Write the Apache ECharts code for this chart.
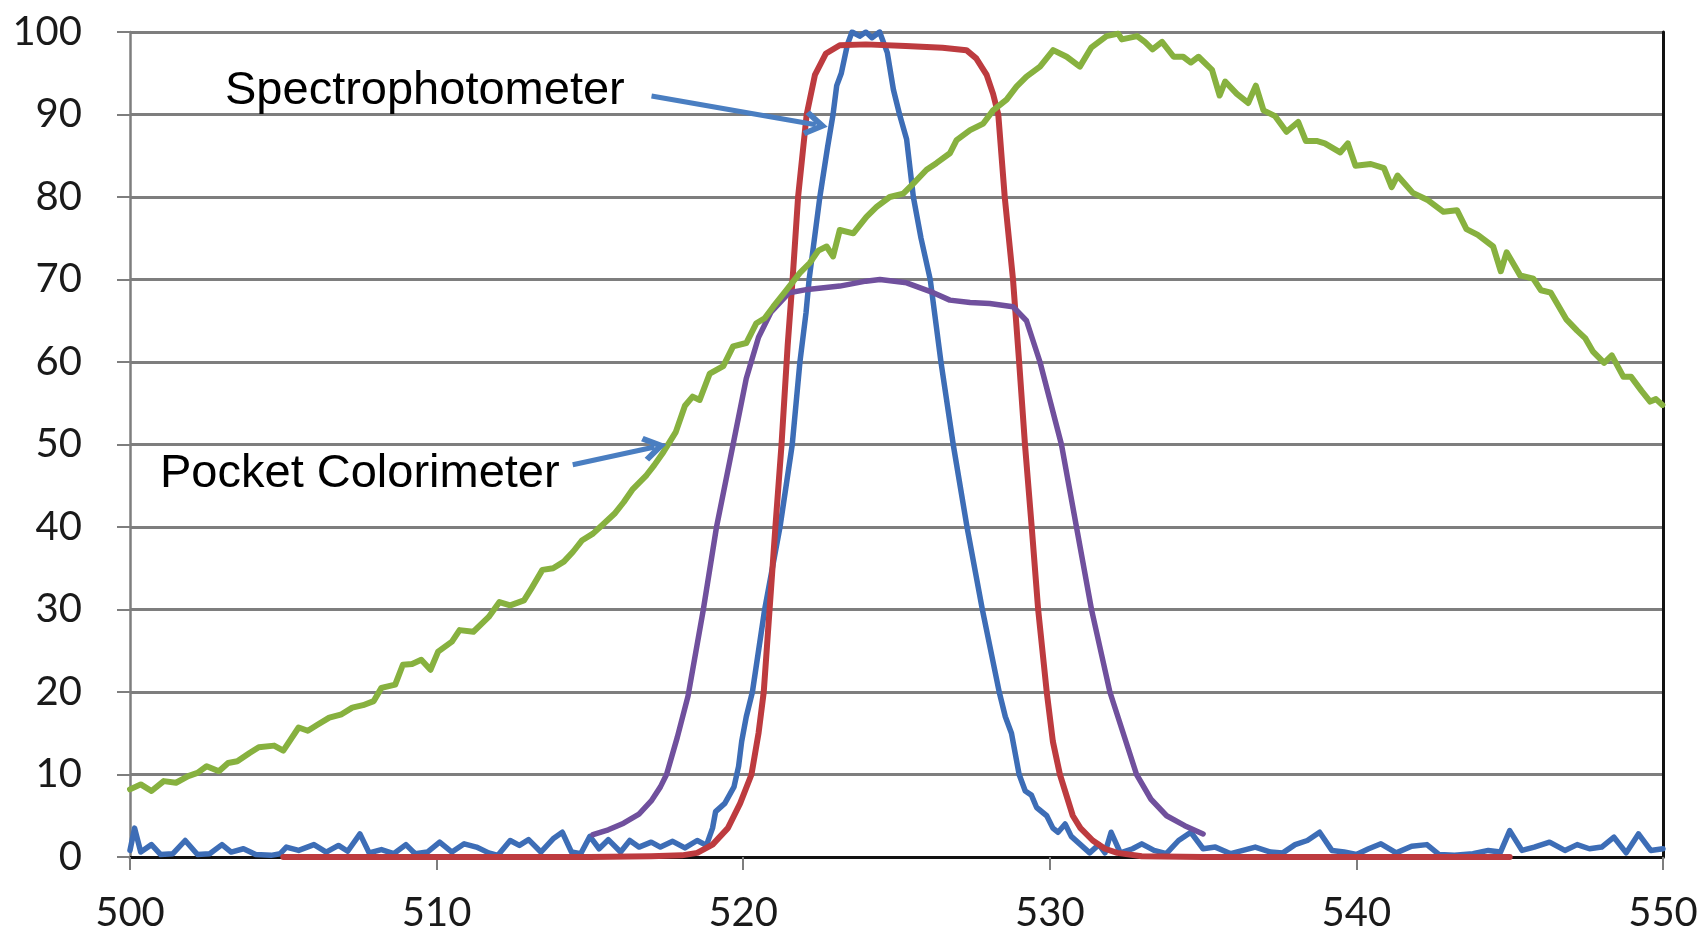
<!DOCTYPE html>
<html>
<head>
<meta charset="utf-8">
<script src="https://cdn.jsdelivr.net/npm/echarts@6/dist/echarts.min.js"></script>
<style>
  html, body { margin: 0; padding: 0; background: #fff; }
  #chart { width: 1702px; height: 939px; }
</style>
</head>
<body>
<div id="chart"></div>
<script>
// wavelength (nm) vs. relative response (%)
var xTicks = [500, 510, 520, 530, 540, 550];
var yTicks = [0, 10, 20, 30, 40, 50, 60, 70, 80, 90, 100];

var blueData = [
  [500.0, 0.8], [500.15, 3.5], [500.35, 0.6], [500.7, 1.5], [501.0, 0.3], [501.4, 0.4],
  [501.8, 2.0], [502.2, 0.3], [502.6, 0.4], [503.0, 1.5], [503.3, 0.6], [503.7, 1.0],
  [504.1, 0.3], [504.6, 0.2], [504.9, 0.4], [505.1, 1.2], [505.5, 0.8], [506.0, 1.5],
  [506.4, 0.6], [506.8, 1.4], [507.1, 0.7], [507.5, 2.8], [507.8, 0.5], [508.2, 0.9],
  [508.6, 0.4], [509.0, 1.5], [509.3, 0.4], [509.7, 0.6], [510.1, 1.8], [510.5, 0.6],
  [510.9, 1.6], [511.3, 1.2], [511.7, 0.5], [512.0, 0.2], [512.4, 2.0], [512.7, 1.4],
  [513.0, 2.1], [513.4, 0.6], [513.8, 2.2], [514.1, 3.0], [514.4, 0.6], [514.7, 0.4],
  [515.0, 2.5], [515.3, 1.0], [515.6, 2.1], [516.0, 0.6], [516.3, 2.0], [516.6, 1.2],
  [517.0, 1.8], [517.3, 1.2], [517.7, 1.9], [518.1, 1.1], [518.5, 2.0], [518.8, 1.4],
  [519.0, 3.5], [519.1, 5.5], [519.4, 6.5], [519.7, 8.5], [519.85, 11], [519.95, 14],
  [520.1, 17], [520.3, 20], [520.7, 30], [521.2, 40], [521.6, 50], [521.85, 60],
  [522.05, 66], [522.15, 70], [522.5, 80], [522.75, 86], [522.93, 90], [523.05, 93.5],
  [523.2, 95], [523.4, 98.5], [523.55, 100], [523.8, 99.5], [524.0, 100], [524.2, 99.3],
  [524.45, 100], [524.7, 97.5], [524.9, 93], [525.1, 90], [525.33, 87], [525.55, 80],
  [525.8, 75], [526.1, 70], [526.45, 60], [526.85, 50], [527.3, 40], [527.8, 30],
  [528.35, 20], [528.55, 17], [528.75, 15], [529.0, 10], [529.2, 8], [529.4, 7.5],
  [529.57, 6], [529.9, 5], [530.1, 3.5], [530.27, 3], [530.5, 4], [530.7, 2.5],
  [531.0, 1.5], [531.3, 0.5], [531.6, 1.5], [531.8, 0.5], [532.0, 3.0], [532.3, 0.5],
  [532.7, 1.0], [533.0, 1.6], [533.4, 0.8], [533.8, 0.4], [534.2, 2.0], [534.6, 3.0],
  [535.0, 1.0], [535.4, 1.2], [535.9, 0.4], [536.3, 0.8], [536.7, 1.2], [537.2, 0.6],
  [537.6, 0.5], [538.0, 1.5], [538.4, 2.0], [538.8, 3.0], [539.2, 0.8], [539.6, 0.6],
  [540.0, 0.3], [540.4, 1.0], [540.8, 1.6], [541.3, 0.5], [541.8, 1.3], [542.3, 1.5],
  [542.7, 0.3], [543.2, 0.2], [543.8, 0.4], [544.3, 0.8], [544.7, 0.6], [545.0, 3.2],
  [545.4, 0.8], [545.8, 1.2], [546.3, 1.8], [546.8, 0.8], [547.2, 1.5], [547.6, 1.0],
  [548.0, 1.2], [548.4, 2.4], [548.8, 0.5], [549.2, 2.8], [549.6, 0.8], [550.0, 1.0]
];

var redData = [
  [505.0, 0], [510.0, 0], [515.0, 0], [517.0, 0.1], [518.0, 0.2], [518.5, 0.5],
  [519.0, 1.5], [519.5, 3.5], [519.9, 6.5], [520.27, 10], [520.5, 15], [520.67, 20],
  [520.86, 30], [521.05, 40], [521.25, 50], [521.45, 62], [521.61, 70], [521.79, 80],
  [522.07, 90], [522.34, 94.8], [522.7, 97.4], [523.15, 98.4], [524.0, 98.5], [525.3, 98.3],
  [526.5, 98.1], [527.28, 97.8], [527.6, 96.8], [527.94, 94.8], [528.15, 92.5], [528.32, 90],
  [528.53, 80], [528.8, 70], [529.0, 60], [529.19, 50], [529.41, 40], [529.62, 30],
  [529.9, 20], [530.1, 14], [530.33, 10], [530.75, 5], [531.0, 3.5], [531.4, 2],
  [531.8, 1], [532.2, 0.5], [533.0, 0.1], [535.0, 0], [540.0, 0], [545.0, 0]
];

var purpleData = [
  [515.1, 2.7], [515.6, 3.3], [516.1, 4.1], [516.6, 5.2], [517.0, 6.8], [517.3, 8.5],
  [517.5, 10], [517.85, 14.5], [518.2, 19.5], [518.7, 30], [519.13, 40], [519.67, 50],
  [520.1, 58], [520.5, 63], [520.9, 66], [521.5, 68.4], [522.1, 68.8], [523.15, 69.2],
  [524.0, 69.8], [524.46, 70], [525.33, 69.6], [526.2, 68.4], [526.74, 67.5], [527.4, 67.2],
  [528.04, 67.1], [528.8, 66.7], [529.24, 65], [529.68, 60], [530.38, 50], [530.87, 40],
  [531.36, 30], [531.96, 20], [532.83, 10], [533.3, 7], [533.81, 5], [534.4, 3.8],
  [535.0, 2.8]
];

var greenData = [
  [500.0, 8.2], [500.35, 8.8], [500.7, 8.0], [501.1, 9.2], [501.5, 9.0], [501.9, 9.8],
  [502.2, 10.2], [502.5, 11.0], [502.9, 10.4], [503.2, 11.4], [503.5, 11.6], [503.9, 12.6],
  [504.2, 13.3], [504.7, 13.5], [505.0, 12.9], [505.5, 15.7], [505.8, 15.3], [506.1, 16.0],
  [506.5, 16.9], [506.9, 17.3], [507.25, 18.1], [507.6, 18.4], [507.95, 18.9], [508.2, 20.5],
  [508.65, 20.9], [508.9, 23.3], [509.2, 23.4], [509.5, 23.9], [509.8, 22.7], [510.05, 24.9],
  [510.5, 26.1], [510.75, 27.5], [511.2, 27.3], [511.7, 29.1], [512.05, 30.9], [512.4, 30.5],
  [512.85, 31.1], [513.1, 32.6], [513.45, 34.8], [513.8, 35.0], [514.15, 35.8], [514.45, 37.0],
  [514.75, 38.4], [515.1, 39.2], [515.45, 40.4], [515.8, 41.6], [516.1, 43.0], [516.4, 44.6],
  [516.85, 46.3], [517.1, 47.5], [517.4, 49.1], [517.8, 51.5], [518.1, 54.7], [518.35, 55.8],
  [518.58, 55.4], [518.91, 58.6], [519.35, 59.5], [519.67, 61.9], [520.1, 62.3], [520.43, 64.7],
  [520.7, 65.3], [520.98, 66.7], [521.41, 68.7], [521.85, 70.8], [522.17, 72.0], [522.45, 73.5],
  [522.72, 74.0], [522.93, 72.8], [523.15, 76.0], [523.59, 75.6], [524.02, 77.6], [524.35, 78.8],
  [524.78, 80.0], [525.22, 80.4], [525.54, 81.6], [525.98, 83.3], [526.3, 84.1], [526.74, 85.3],
  [526.96, 86.9], [527.4, 88.1], [527.83, 88.9], [528.15, 90.5], [528.59, 91.8], [528.92, 93.4],
  [529.24, 94.6], [529.68, 95.8], [530.11, 97.8], [530.55, 97.0], [530.98, 95.8], [531.35, 98.1],
  [531.85, 99.5], [532.23, 99.8], [532.35, 99.1], [532.85, 99.5], [533.1, 98.8], [533.35, 97.9],
  [533.66, 98.8], [534.04, 97.0], [534.35, 97.0], [534.6, 96.3], [534.85, 97.0], [535.29, 95.4],
  [535.54, 92.3], [535.72, 94.0], [536.1, 92.5], [536.47, 91.4], [536.72, 93.5], [536.97, 90.5],
  [537.35, 89.8], [537.72, 87.9], [538.1, 89.1], [538.35, 86.8], [538.7, 86.8], [538.97, 86.5],
  [539.47, 85.4], [539.72, 86.5], [539.97, 83.8], [540.47, 84.0], [540.9, 83.5], [541.15, 81.2],
  [541.34, 82.6], [541.84, 80.5], [542.34, 79.6], [542.84, 78.2], [543.28, 78.4], [543.59, 76.1],
  [543.96, 75.4], [544.46, 74.0], [544.71, 71.0], [544.9, 73.3], [545.34, 70.5], [545.77, 70.1],
  [546.02, 68.7], [546.34, 68.4], [546.84, 65.2], [547.2, 63.8], [547.46, 62.9], [547.71, 61.3],
  [548.08, 59.9], [548.33, 60.8], [548.71, 58.2], [548.96, 58.2], [549.3, 56.5], [549.58, 55.2],
  [549.77, 55.5], [549.98, 54.8]
];

// callout arrows, tail -> head, in data units
var spectroArrow = [[517.01, 92.25], [522.37, 88.76]];
var pocketArrow = [[514.44, 47.55], [517.11, 49.70]];
var calloutText = ["Spectrophotometer", "Pocket Colorimeter"];

var gridColor = '#7e7e7e';
var labelFont = { fontFamily: 'Lato', fontSize: 40, color: '#1a1a1a' };
var chevron = 'path://M10,0 L20,14 L16.5,16.5 L10,7.5 L3.5,16.5 L0,14 Z';

function line(name, data, color, width) {
  return {
    name: name,
    type: 'line',
    data: data,
    showSymbol: false,
    symbol: 'none',
    lineStyle: { color: color, width: width, join: 'round', cap: 'round' },
    silent: true,
    z: 3
  };
}

var chart = echarts.init(document.getElementById('chart'));

var blueSeries = line('blue', blueData, '#3d6db6', 5.5);
blueSeries.markLine = {
  silent: true,
  animation: false,
  symbol: ['none', chevron],
  symbolSize: [26, 24],
  label: { show: false },
  lineStyle: { color: '#4a7ec1', width: 5, type: 'solid' },
  data: [
    [{ coord: spectroArrow[0] }, { coord: spectroArrow[1] }],
    [{ coord: pocketArrow[0] }, { coord: pocketArrow[1] }]
  ],
  z: 6
};

chart.setOption({
  backgroundColor: '#ffffff',
  animation: false,
  grid: { left: 130, right: 39, top: 32, bottom: 82 },
  xAxis: [{
    type: 'value',
    min: xTicks[0],
    max: xTicks[xTicks.length - 1],
    interval: 10,
    axisLine: { show: true, onZero: false, lineStyle: { color: gridColor, width: 2.5 } },
    axisTick: { show: true, length: 13, lineStyle: { color: gridColor, width: 2 } },
    axisLabel: Object.assign({ margin: 36 }, labelFont),
    splitLine: { show: false }
  }, {
    type: 'value',
    position: 'top',
    min: xTicks[0],
    max: xTicks[xTicks.length - 1],
    axisLine: { show: true, lineStyle: { color: '#111', width: 3 } },
    axisTick: { show: false },
    axisLabel: { show: false },
    splitLine: { show: false }
  }],
  yAxis: [{
    type: 'value',
    min: yTicks[0],
    max: yTicks[yTicks.length - 1],
    interval: 10,
    axisLine: { show: true, lineStyle: { color: gridColor, width: 2.5 } },
    axisTick: { show: true, length: 13, lineStyle: { color: gridColor, width: 2 } },
    axisLabel: Object.assign({ margin: 48 }, labelFont),
    splitLine: { show: true, lineStyle: { color: gridColor, width: 2.8 } }
  }, {
    type: 'value',
    position: 'right',
    min: yTicks[0],
    max: yTicks[yTicks.length - 1],
    axisLine: { show: true, lineStyle: { color: '#111', width: 3 } },
    axisTick: { show: false },
    axisLabel: { show: false },
    splitLine: { show: false }
  }],
  graphic: [{
    type: 'text',
    left: 225,
    top: 68,
    style: { text: calloutText[0], font: '47px "Liberation Sans"', fill: '#000' },
    z: 10
  }, {
    type: 'text',
    left: 160,
    top: 451,
    style: { text: calloutText[1], font: '47px "Liberation Sans"', fill: '#000' },
    z: 10
  }],
  series: [
    blueSeries,
    line('red', redData, '#bd3b3f', 6),
    line('purple', purpleData, '#70509d', 5.5),
    line('green', greenData, '#87b13f', 6)
  ]
});
</script>
</body>
</html>
